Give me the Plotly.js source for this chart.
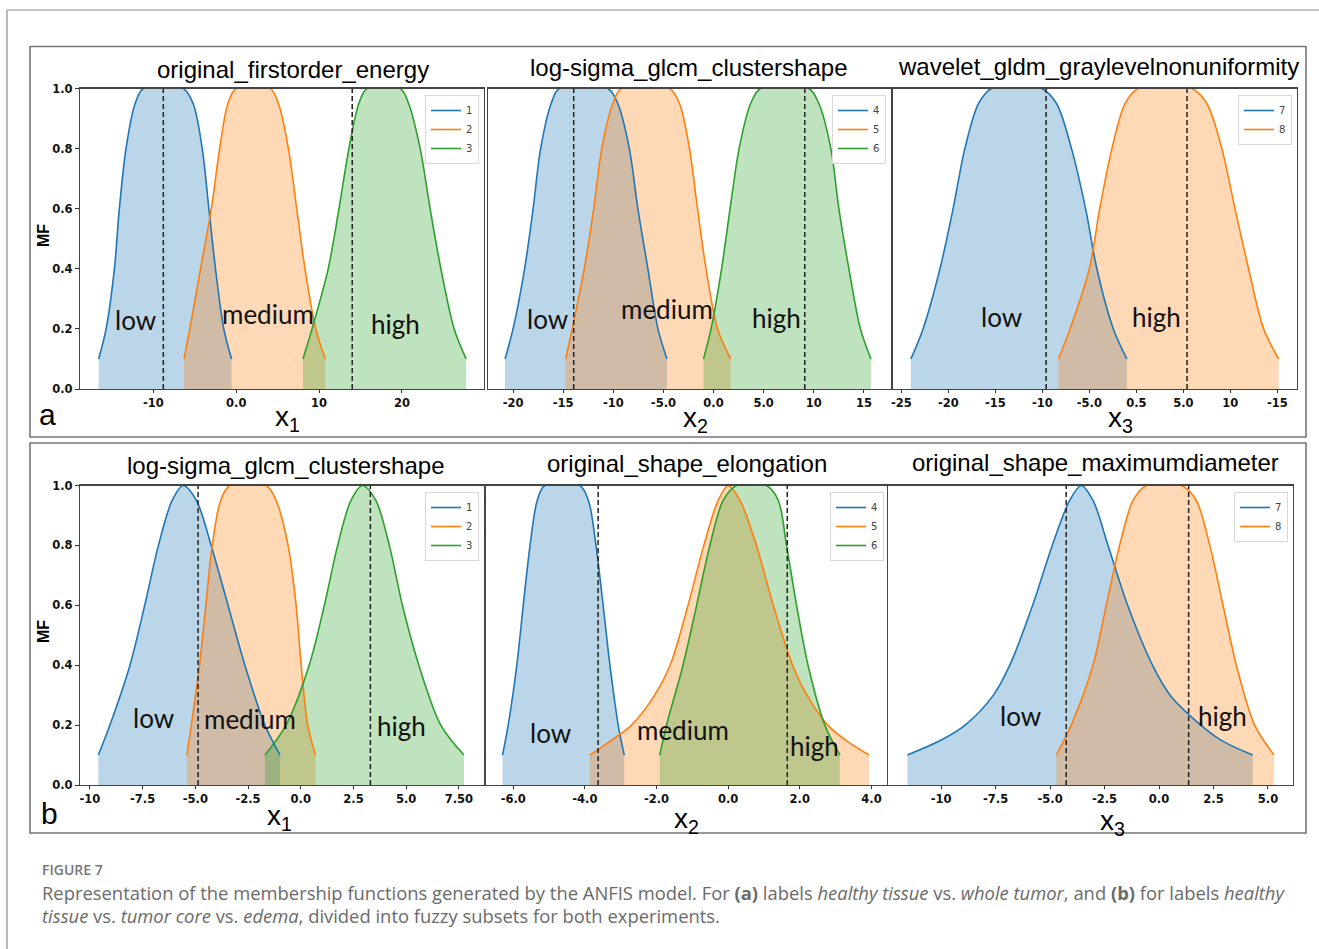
<!DOCTYPE html>
<html><head><meta charset="utf-8">
<script src="https://cdn.plot.ly/plotly-3.0.1.min.js"></script>
<style>html,body{margin:0;padding:0;background:#fff;}#chart{width:1319px;height:949px;}</style>
</head><body><div id="chart"></div>
<script>
const levelsFlat = [0.1,0.2,0.4,0.6,0.8,0.95,1.0,1.0,0.95,0.8,0.6,0.4,0.2,0.1];
const levelsPeak = [0.1,0.2,0.4,0.6,0.8,0.95,1.0,0.95,0.8,0.6,0.4,0.2,0.1];
const levelsTail = [0.1,0.15,0.2,0.3,0.4,0.6,0.8,0.95,1.0,0.95,0.8,0.6,0.4,0.3,0.2,0.15,0.1];

// ---- (a) panel 1: original_firstorder_energy ----
const a1_low_x    = [-16.6,-15.7,-14.7,-14.1,-13.3,-12.2,-11.2,-6.4,-5.2,-4.1,-3.3,-2.5,-1.5,-0.56];
const a1_medium_x = [-6.3,-5.6,-4.3,-3.0,-2.0,-1.0,0.0,4.1,5.1,6.3,7.3,8.3,9.6,10.75];
const a1_high_x   = [8.05,9.15,11.1,12.4,13.6,14.8,15.8,19.8,20.8,22.2,23.4,24.7,26.3,27.75];
const a1_dashed   = [-8.8, 14.0];
// ---- (a) panel 2: log-sigma_glcm_clustershape ----
const a2_low_x    = [-20.8,-20.0,-18.85,-18.0,-17.25,-16.2,-15.4,-10.55,-9.55,-8.4,-7.55,-6.55,-5.55,-4.65];
const a2_medium_x = [-14.75,-14.1,-12.9,-11.95,-11.15,-10.05,-9.2,-4.4,-3.4,-2.4,-1.6,-0.75,0.4,1.7];
const a2_high_x   = [-1.0,-0.25,0.8,1.65,2.55,3.7,4.7,9.5,10.5,11.7,12.5,13.5,14.65,15.7];
const a2_dashed   = [-13.95, 9.1];
// ---- (a) panel 3: wavelet_gldm_graylevelnonuniformity ----
const a3_low_x    = [-24.0,-22.7,-20.9,-19.5,-18.25,-16.8,-15.4,-10.1,-8.5,-6.9,-5.4,-4.2,-2.45,-1.0];
const a3_high_x   = [-8.3,-7.05,-5.0,-3.9,-2.6,-1.2,0.2,5.9,7.5,9.1,10.5,11.95,13.55,15.15];
const a3_dashed   = [-9.6, 5.4];
// ---- (b) panel 1: log-sigma_glcm_clustershape ----
const b1_low_x    = [-9.6,-9.05,-8.1,-7.4,-6.75,-6.1,-5.58,-4.95,-4.25,-3.45,-2.65,-1.7,-0.98];
const b1_medium_x = [-5.4,-5.19,-4.8,-4.5,-4.2,-3.8,-3.37,-1.64,-1.17,-0.6,-0.22,0.02,0.33,0.7];
const b1_high_x   = [-1.7,-0.7,0.4,1.12,1.75,2.38,2.93,3.56,4.2,4.82,5.6,6.64,7.74];
const b1_dashed   = [-4.87, 3.3];
// ---- (b) panel 2: original_shape_elongation ----
const b2_low_x    = [-6.3,-6.14,-5.9,-5.72,-5.53,-5.33,-5.12,-4.14,-3.9,-3.69,-3.49,-3.3,-3.07,-2.9];
const b2_medium_x = [-3.86,-3.25,-2.7,-2.05,-1.62,-1.12,-0.68,-0.28,0.0,0.33,0.79,1.26,1.8,2.2,2.78,3.28,3.93];
const b2_high_x   = [-1.91,-1.72,-1.26,-0.88,-0.51,-0.14,0.23,1.07,1.4,1.63,1.91,2.23,2.7,3.12];
const b2_dashed   = [-3.63, 1.65];
// ---- (b) panel 3: original_shape_maximumdiameter ----
const b3_low_x    = [-11.55,-10.0,-8.9,-7.6,-6.85,-5.8,-4.9,-4.1,-3.57,-3.03,-2.34,-1.44,-0.3,0.51,1.92,2.84,4.3];
const b3_high_x   = [-4.71,-4.03,-3.03,-2.42,-1.81,-1.19,-0.58,1.03,1.71,2.33,2.94,3.55,4.39,5.28];
const b3_dashed   = [-4.26, 1.36];

// ---- titles and tick labels ----
const panelTitles = ['original_firstorder_energy','log-sigma_glcm_clustershape','wavelet_gldm_graylevelnonuniformity',
                     'log-sigma_glcm_clustershape','original_shape_elongation','original_shape_maximumdiameter'];
const xTickVals = [[-10,0,10,20],[-20,-15,-10,-5,0,5,10,15],[-25,-20,-15,-10,-5,0,5,10,15],
                   [-10,-7.5,-5,-2.5,0,2.5,5,7.5],[-6,-4,-2,0,2,4],[-10,-7.5,-5,-2.5,0,2.5,5]];
const xTickText = [['-10','0.0','10','20'],['-20','-15','-10','-5.0','0.0','5.0','10','15'],
                   ['-25','-20','-15','-10','-5.0','0.5','5.0','10','-15'],
                   ['-10','-7.5','-5.0','-2.5','0.0','2.5','5.0','7.50'],['-6.0','-4.0','-2.0','0.0','2.0','4.0'],
                   ['-10','-7.5','-5.0','-2.5','0.0','2.5','5.0']];
const yTickVals = [0,0.2,0.4,0.6,0.8,1.0];
const yTickText = ['0.0','0.2','0.4','0.6','0.8','1.0'];
const legendNames = [['1','2','3'],['4','5','6'],['7','8'],['1','2','3'],['4','5','6'],['7','8']];
const axisNames = ['x<sub>1</sub>','x<sub>2</sub>','x<sub>3</sub>','x<sub>1</sub>','x<sub>2</sub>','x<sub>3</sub>'];

const W = 1319, H = 949;
const fx = p => p / W, fy = p => 1 - p / H;
const COL = ['#1f77b4','#ff7f0e','#2ca02c'];
const FILL = ['rgba(31,119,180,0.3)','rgba(255,127,14,0.3)','rgba(44,160,44,0.3)'];

// curves per panel: [xArray, levels, colourIndex]
const panels = [
  {curves:[[a1_low_x,levelsFlat,0],[a1_medium_x,levelsFlat,1],[a1_high_x,levelsFlat,2]], dashed:a1_dashed,
   labels:[['low',-12.2,0.23],['medium',3.8,0.25],['high',19.2,0.216]]},
  {curves:[[a2_low_x,levelsFlat,0],[a2_medium_x,levelsFlat,1],[a2_high_x,levelsFlat,2]], dashed:a2_dashed,
   labels:[['low',-16.6,0.233],['medium',-4.65,0.266],['high',6.27,0.236]]},
  {curves:[[a3_low_x,levelsFlat,0],[a3_high_x,levelsFlat,1]], dashed:a3_dashed,
   labels:[['low',-14.4,0.24],['high',2.18,0.24]]},
  {curves:[[b1_low_x,levelsPeak,0],[b1_medium_x,levelsFlat,1],[b1_high_x,levelsPeak,2]], dashed:b1_dashed,
   labels:[['low',-6.97,0.223],['medium',-2.4,0.219],['high',4.79,0.197]]},
  {curves:[[b2_low_x,levelsFlat,0],[b2_medium_x,levelsTail,1],[b2_high_x,levelsFlat,2]], dashed:b2_dashed,
   labels:[['low',-4.96,0.174],['medium',-1.26,0.182],['high',2.4,0.13]]},
  {curves:[[b3_low_x,levelsTail,0],[b3_high_x,levelsFlat,1]], dashed:b3_dashed,
   labels:[['low',-6.35,0.23],['high',2.91,0.23]]}
];

// geometry (pixels)
const geo = [
  {x0:80,x1:484,y0:88.5,y1:389,r:[-18.85,29.9],leg:[479,95],title:[293,69],xt:[287,419]},
  {x0:488,x1:891,y0:88.5,y1:389,r:[-22.5,17.7],leg:[886,95],title:[688,67],xt:[695,420]},
  {x0:893,x1:1297,y0:88.5,y1:389,r:[-25.9,17.1],leg:[1292,95],title:[1098,66],xt:[1120,420]},
  {x0:80,x1:484,y0:485.5,y1:785,r:[-10.47,8.69],leg:[479,492],title:[285,465],xt:[279,817]},
  {x0:486,x1:889,y0:485.5,y1:785,r:[-6.76,4.49],leg:[884,492],title:[687,463],xt:[687,820]},
  {x0:888,x1:1293,y0:485.5,y1:785,r:[-12.44,6.15],leg:[1288,492],title:[1095,462],xt:[1112,822]}
];

const fills = [], lines = [], shapes = [], annotations = [];
const layout = {width:W, height:H, margin:{l:0,r:0,t:0,b:0}, paper_bgcolor:'#fff', plot_bgcolor:'#fff',
  showlegend:true, shapes, annotations};

const tickFont = {family:'DejaVu Sans, sans-serif', size:11.5, color:'#111', weight:'bold'};
panels.forEach((p, i) => {
  const n = i + 1, sfx = n === 1 ? '' : String(n);
  const xa = 'x' + sfx, ya = 'y' + sfx, lg = 'legend' + sfx;
  const g = geo[i];
  p.curves.forEach((c, k) => {
    fills.push({type:'scatter', mode:'lines', x:c[0], y:c[1], xaxis:xa, yaxis:ya, showlegend:false,
      line:{color:'rgba(0,0,0,0)', width:0, shape:'spline', smoothing:0.9},
      fill:'tozeroy', fillcolor:FILL[c[2]], hoverinfo:'skip'});
    lines.push({type:'scatter', mode:'lines', x:c[0], y:c[1], xaxis:xa, yaxis:ya, legend:lg,
      name:legendNames[i][k], line:{color:COL[c[2]], width:1.6, shape:'spline', smoothing:0.9}, hoverinfo:'skip'});
  });
  layout['xaxis' + sfx] = {domain:[fx(g.x0), fx(g.x1)], range:g.r, anchor:ya, tickmode:'array',
    tickvals:xTickVals[i], ticktext:xTickText[i], ticks:'outside', ticklen:3, tickcolor:'#333',
    showline:true, mirror:true, linecolor:'#444', linewidth:1.2, showgrid:false, zeroline:false,
    tickfont:tickFont, fixedrange:true};
  const first = (i === 0 || i === 3);
  layout['yaxis' + sfx] = {domain:[fy(g.y1), fy(g.y0)], range:[0,1], anchor:xa, tickmode:'array',
    tickvals:yTickVals, ticktext:yTickText, showticklabels:first, ticks:first ? 'outside' : '',
    ticklen:4, tickcolor:'#333', showline:true, mirror:true, linecolor:'#444', linewidth:1.2,
    showgrid:false, zeroline:false, tickfont:tickFont, fixedrange:true};
  layout[lg] = {x:fx(g.leg[0]), xanchor:'right', y:fy(g.leg[1]), yanchor:'top', bgcolor:'rgba(255,255,255,0.85)',
    bordercolor:'#d8d8d8', borderwidth:1, font:{family:'DejaVu Sans, sans-serif', size:10, color:'#444'},
    tracegroupgap:0, itemwidth:30};
  p.dashed.forEach(v => shapes.push({type:'line', xref:xa, yref:ya, x0:v, x1:v, y0:0, y1:1,
    line:{color:'#222', width:1.5, dash:'5px,3px'}}));
  p.labels.forEach(l => annotations.push({xref:xa, yref:ya, x:l[1], y:l[2], text:l[0], showarrow:false,
    xanchor:'center', yanchor:'middle', font:{family:'Lato, Open Sans, sans-serif', size:26, color:'#111'}}));
  annotations.push({xref:'paper', yref:'paper', x:fx(g.title[0]), y:fy(g.title[1]), text:panelTitles[i],
    showarrow:false, xanchor:'center', yanchor:'middle', font:{family:'Liberation Sans, Arial, sans-serif', size:24, color:'#000'}});
  annotations.push({xref:'paper', yref:'paper', x:fx(g.xt[0]), y:fy(g.xt[1]), text:axisNames[i], borderpad:0,
    showarrow:false, xanchor:'center', yanchor:'middle', font:{family:'Liberation Sans, Arial, sans-serif', size:28, color:'#000'}});
});
const data = fills.concat(lines);

// MF labels, panel letters
[[44,236],[43,632]].forEach(p => annotations.push({xref:'paper', yref:'paper', x:fx(p[0]), y:fy(p[1]), text:'<b>MF</b>',
  textangle:-90, showarrow:false, xanchor:'center', yanchor:'middle', font:{family:'Liberation Sans, Arial, sans-serif', size:16, color:'#000'}}));
[['a',47,414],['b',49,813]].forEach(p => annotations.push({xref:'paper', yref:'paper', x:fx(p[1]), y:fy(p[2]), text:p[0],
  showarrow:false, xanchor:'center', yanchor:'middle', font:{family:'Liberation Sans, Arial, sans-serif', size:30, color:'#000'}}));

// caption
annotations.push({xref:'paper', yref:'paper', x:fx(40), y:fy(869), text:'FIGURE 7', showarrow:false, xanchor:'left', yanchor:'middle',
  font:{family:'Open Sans, sans-serif', size:14, color:'#777', weight:600}});
annotations.push({xref:'paper', yref:'paper', x:fx(40), y:fy(892), showarrow:false, xanchor:'left', yanchor:'middle',
  text:'Representation of the membership functions generated by the ANFIS model. For <b>(a)</b> labels <i>healthy tissue</i> vs. <i>whole tumor</i>, and <b>(b)</b> for labels <i>healthy</i>',
  font:{family:'Open Sans, sans-serif', size:18.4, color:'#6a6a6a'}});
annotations.push({xref:'paper', yref:'paper', x:fx(40), y:fy(915), showarrow:false, xanchor:'left', yanchor:'middle',
  text:'<i>tissue</i> vs. <i>tumor core</i> vs. <i>edema</i>, divided into fuzzy subsets for both experiments.',
  font:{family:'Open Sans, sans-serif', size:18.4, color:'#6a6a6a'}});

// frames
shapes.push({type:'line', xref:'paper', yref:'paper', x0:fx(7), x1:fx(7), y0:fy(10), y1:0, line:{color:'#8a8a8a', width:1.2}});
shapes.push({type:'line', xref:'paper', yref:'paper', x0:fx(7), x1:1, y0:fy(10), y1:fy(10), line:{color:'#8a8a8a', width:1.2}});
shapes.push({type:'rect', xref:'paper', yref:'paper', x0:fx(30), x1:fx(1306), y0:fy(437), y1:fy(46.5), line:{color:'#777', width:1.6}});
shapes.push({type:'rect', xref:'paper', yref:'paper', x0:fx(30), x1:fx(1306), y0:fy(833), y1:fy(443), line:{color:'#777', width:1.6}});

Plotly.newPlot('chart', data, layout, {staticPlot:true, displayModeBar:false});
</script></body></html>
